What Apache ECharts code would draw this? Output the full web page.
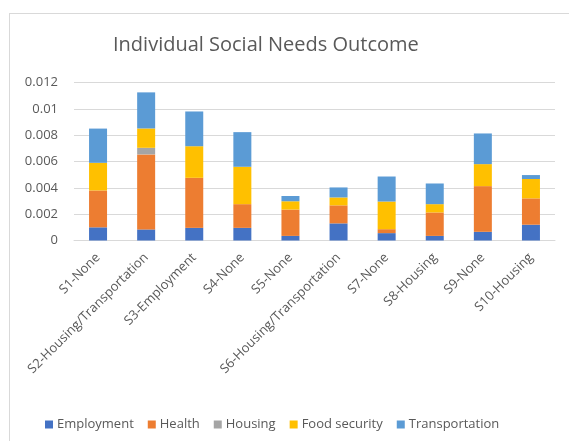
<!DOCTYPE html>
<html>
<head>
<meta charset="utf-8">
<script src="https://cdn.jsdelivr.net/npm/echarts@6/dist/echarts.min.js"></script>
<style>
  html, body { margin: 0; padding: 0; background: #fff; }
  #frame { position: absolute; left: 9px; top: 13px; width: 600px; height: 500px;
           border-left: 1px solid #d9d9d9; border-top: 1px solid #d9d9d9; }
  #chart { position: absolute; left: 0; top: 0; width: 569px; height: 441px; }
</style>
</head>
<body>
<div id="frame"></div>
<div id="chart"></div>
<script>
// categories and stacked values
var categories = ['S1-None', 'S2-Housing/Transportation', 'S3-Employment', 'S4-None', 'S5-None',
  'S6-Housing/Transportation', 'S7-None', 'S8-Housing', 'S9-None', 'S10-Housing'];
var employment = [0.001, 0.00084, 0.00096, 0.00096, 0.00035, 0.0013, 0.00056, 0.00035, 0.00066, 0.0012];
var health = [0.0028, 0.0057, 0.0038, 0.0018, 0.002, 0.00137, 0.0003, 0.00178, 0.00347, 0.002];
var housing = [0, 0.0005, 0, 0, 0, 0, 0, 0, 0, 0];
var foodSecurity = [0.0021, 0.00147, 0.0024, 0.00284, 0.00063, 0.0006, 0.0021, 0.00063, 0.00167, 0.00147];
var transportation = [0.0026, 0.00274, 0.00264, 0.00263, 0.0004, 0.00076, 0.0019, 0.00157, 0.00233, 0.0003];

var fontFam = '"Open Sans", sans-serif';
var txt = '#595959';

function bar(name, data, color) {
  return { name: name, type: 'bar', stack: 'total', data: data, barWidth: 18,
           itemStyle: { color: color } };
}

var chart = echarts.init(document.getElementById('chart'));
chart.setOption({
  animation: false,
  title: {
    text: 'Individual Social Needs Outcome',
    left: 108, top: 30,
    textStyle: { fontFamily: fontFam, fontSize: 20, fontWeight: 'normal', color: txt }
  },
  legend: {
    left: 40, top: 413,
    itemWidth: 8, itemHeight: 8, itemGap: 14,
    icon: 'rect',
    textStyle: { fontFamily: fontFam, fontSize: 13, color: txt, padding: [0, 0, 0, -1] },
    data: ['Employment', 'Health', 'Housing', 'Food security', 'Transportation']
  },
  grid: { left: 74, right: 14, top: 82.5, bottom: 200.5 },
  xAxis: {
    type: 'category',
    data: categories,
    axisLine: { lineStyle: { color: '#d9d9d9' } },
    axisTick: { show: false },
    axisLabel: { rotate: 45, interval: 0, margin: 15, fontFamily: fontFam, fontSize: 13, color: txt }
  },
  yAxis: {
    type: 'value',
    min: 0, max: 0.012, interval: 0.002,
    axisLine: { show: false },
    axisTick: { show: false },
    splitLine: { lineStyle: { color: '#d9d9d9' } },
    axisLabel: { margin: 16, fontFamily: fontFam, fontSize: 13, color: txt,
                 formatter: function (v) { return String(+v.toFixed(3)); } }
  },
  series: [
    bar('Employment', employment, '#4472C4'),
    bar('Health', health, '#ED7D31'),
    bar('Housing', housing, '#A5A5A5'),
    bar('Food security', foodSecurity, '#FFC000'),
    bar('Transportation', transportation, '#5B9BD5')
  ]
});
</script>
</body>
</html>
